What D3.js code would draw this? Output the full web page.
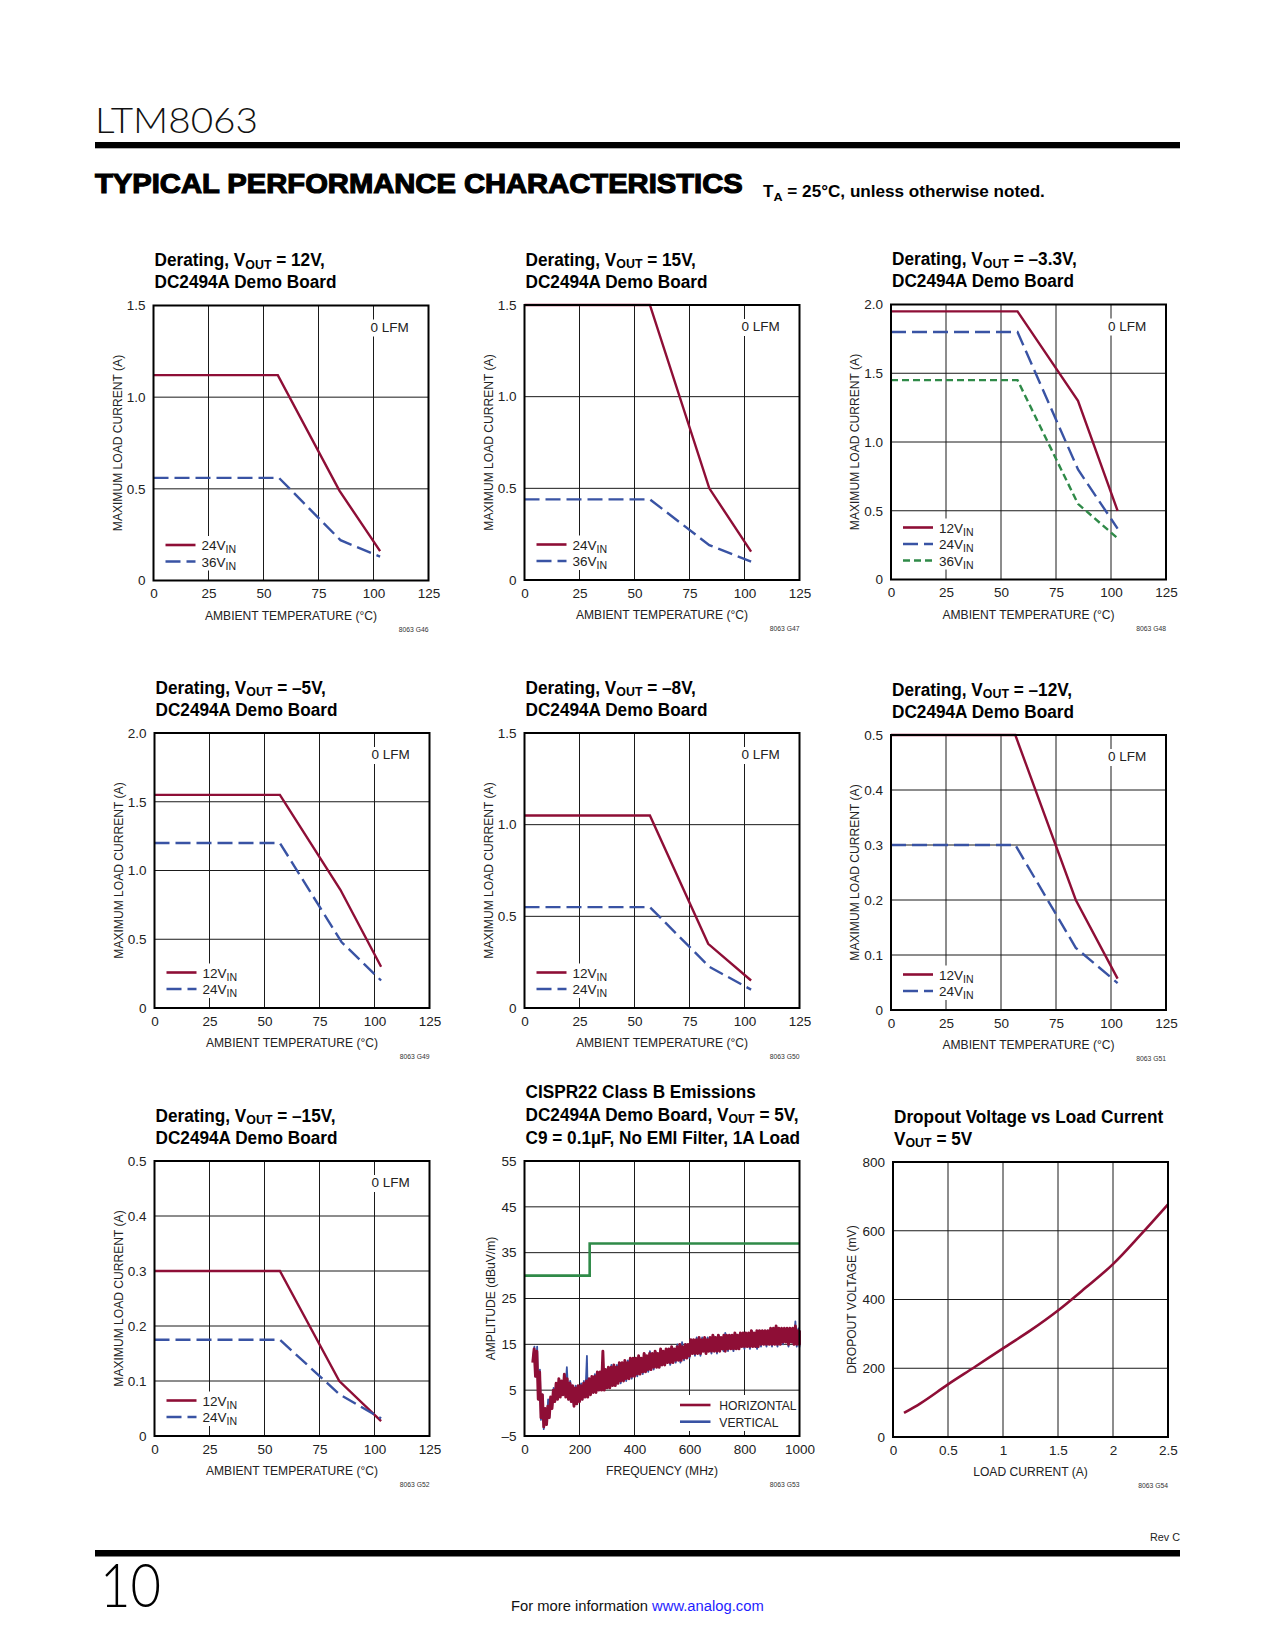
<!DOCTYPE html>
<html><head><meta charset="utf-8">
<script src="https://cdn.jsdelivr.net/npm/d3@7"></script>
<style>body{margin:0;background:#fff}svg{display:block}</style>
</head><body>
<svg id="page" width="1275" height="1650"></svg>
<script>
// ---------------- DATA ----------------
const tempTicks = [0, 25, 50, 75, 100, 125];
const tempLabels = ["0", "25", "50", "75", "100", "125"];
const yTicks15 = [0, 0.5, 1.0, 1.5];
const yLabels15 = ["0", "0.5", "1.0", "1.5"];
const yTicks20 = [0, 0.5, 1.0, 1.5, 2.0];
const yLabels20 = ["0", "0.5", "1.0", "1.5", "2.0"];
const yTicks05 = [0, 0.1, 0.2, 0.3, 0.4, 0.5];
const yLabels05 = ["0", "0.1", "0.2", "0.3", "0.4", "0.5"];

// Derating series: [ambient temperature °C, max load current A]
const g46_24VIN = [[0, 1.12], [56.5, 1.12], [84.5, 0.49], [103, 0.16]];
const g46_36VIN = [[0, 0.56], [57, 0.56], [85, 0.22], [103, 0.13]];
const g47_24VIN = [[0, 1.5], [57, 1.5], [84, 0.5], [103, 0.155]];
const g47_36VIN = [[0, 0.44], [57, 0.44], [84, 0.19], [103, 0.10]];
const g48_12VIN = [[0, 1.95], [57.5, 1.95], [85, 1.3], [103, 0.5]];
const g48_24VIN = [[0, 1.8], [57.5, 1.8], [85, 0.8], [103, 0.37]];
const g48_36VIN = [[0, 1.45], [57.5, 1.45], [85, 0.55], [103, 0.3]];
const g49_12VIN = [[0, 1.55], [57, 1.55], [84.5, 0.86], [103, 0.3]];
const g49_24VIN = [[0, 1.2], [57, 1.2], [85, 0.48], [103, 0.2]];
const g50_12VIN = [[0, 1.05], [57, 1.05], [83.5, 0.35], [103, 0.15]];
const g50_24VIN = [[0, 0.55], [57, 0.55], [84, 0.225], [103, 0.1]];
const g51_12VIN = [[0, 0.5], [56.5, 0.5], [84, 0.2], [103, 0.057]];
const g51_24VIN = [[0, 0.3], [56.5, 0.3], [84, 0.113], [103, 0.049]];
const g52_12VIN = [[0, 0.3], [57, 0.3], [84, 0.1], [103, 0.027]];
const g52_24VIN = [[0, 0.175], [57, 0.175], [84, 0.076], [103, 0.032]];

// EMI chart
const freqTicks = [0, 200, 400, 600, 800, 1000];
const freqLabels = ["0", "200", "400", "600", "800", "1000"];
const ampTicks = [-5, 5, 15, 25, 35, 45, 55];
const ampLabels = ["\u20135", "5", "15", "25", "35", "45", "55"];
const limitFreq = [0, 237, 237, 1000];
const limitAmp = [30, 30, 37, 37];
// [MHz, low dBuV/m, high dBuV/m] of the HORIZONTAL trace band
const emiHorizontal = [
 [30,11,14],[40,8,13.5],[50,3,9],[60,-1,4],[70,-3,1],[80,-2.5,1.5],[90,-1,3.5],[100,1,5],
 [110,2.5,6.5],[120,3,7.5],[130,3.5,7],[140,4,8.5],[150,3.5,7.5],[160,3,6.5],[170,2.5,6],[180,1.5,5.5],
 [190,2,6],[200,2.5,6],[210,3,6.5],[220,3.5,7],[230,3.5,7.5],[240,4,8],[250,4.5,8],[260,4.5,9],
 [270,5,9],[280,5,13.5],[290,5,9.5],[300,5.5,10],[310,5.5,10],[320,6,10.5],[330,6,10],[340,6.5,11],
 [350,7,11],[360,7,11.5],[370,7.5,11],[380,7.5,12],[390,8,12],[400,8,12],[410,8.5,12.5],[420,8.5,12],
 [430,9,13],[440,9,12.5],[450,9.5,13],[460,9.5,13],[470,10,13.5],[480,10,13],[490,10,14],[500,10.5,13.5],
 [510,10.5,14],[520,11,14],[530,11,14.5],[540,11,14],[550,11.5,14.5],[560,11.5,15],[570,11.5,14.5],[580,12,15],
 [590,12,15],[600,12.5,16],[610,13,16],[620,13,16],[630,13,16.5],[640,13,16],[650,13.5,16.5],[660,13,16],
 [670,13.5,16.5],[680,13.5,17],[690,13.5,16.5],[700,13.5,17],[710,13.5,16.5],[720,14,17],[730,13.5,17],[740,14,17],
 [750,14,17],[760,14,17.5],[770,14,17],[780,14,17.5],[790,14.5,17.5],[800,14.5,17.5],[810,14.5,17.5],[820,14.5,18],
 [830,14.5,17.5],[840,14.5,18],[850,14.5,18],[860,15,18],[870,15,18],[880,15,18],[890,15,18.5],[900,15,18.5],
 [910,15,19],[920,15,18.5],[930,15,18.5],[940,15.5,18.5],[950,15.5,18.5],[960,15,18.5],[970,15.5,18.5],[980,15,19],
 [990,15,18],[1000,15,18]
];
// [MHz, low, high] of the VERTICAL trace band
const emiVertical = [
 [30,11.5,14.5],[40,8,14.5],[50,3,9.5],[60,-1.5,4],[70,-3.5,1],[80,-2.5,3],[90,-1,3.5],[100,1,5.5],
 [120,3,7],[140,4,8],[148,4.5,10],[160,3,7],[180,1.5,6],[200,2.5,6.5],[210,3,7],[221,3.5,12.5],
 [230,3.5,7.5],[250,4.5,8.5],[270,5,9],[290,5,9.5],[310,5.5,10.5],[330,6,10.5],[350,6.5,11],[370,7,11.5],
 [390,7.5,12],[410,8,12.5],[430,8.5,13],[450,9,13.5],[470,9.5,13.5],[490,10,14],[510,10.5,14],[530,10.5,14.5],
 [550,11,15],[567,11,15.5],[580,11.5,15],[600,12,16],[620,12.5,16.5],[640,12.5,16.5],[660,13,16.5],[680,13,17],
 [700,13,17],[724,13.5,17.5],[740,13.5,17],[760,13.5,17.5],[780,14,17.5],[800,14,17.5],[820,14,18],[846,14,18],
 [860,14.5,18],[880,14.5,18],[900,14.5,18.5],[920,14.5,18.5],[940,15,18.5],[960,14.5,18.5],[979,15,20],[990,14.5,18.5],
 [1000,14.5,18]
];

// Dropout chart
const loadTicks = [0, 0.5, 1, 1.5, 2, 2.5];
const loadLabels = ["0", "0.5", "1", "1.5", "2", "2.5"];
const dropTicks = [0, 200, 400, 600, 800];
const dropLabels = ["0", "200", "400", "600", "800"];
const dropoutI = [0.1, 0.25, 0.5, 0.75, 1.0, 1.25, 1.5, 1.75, 2.0, 2.25, 2.5];
const dropoutV = [70, 98, 153, 205, 258, 310, 368, 434, 503, 588, 677];

// ---------------- STYLE ----------------
const RED = "#8e0e36", BLUE = "#3953a4", GREEN = "#2f8a48";
const FONT = "'Liberation Sans', Arial, Helvetica, sans-serif";
const W = 275, H = 275;
const svg = d3.select("#page");

function txt(parent, x, y, parts, o = {}) {
  const size = o.size || 13;
  const t = parent.append("text")
    .attr("font-family", o.family || FONT)
    .attr("font-size", size)
    .attr("font-weight", o.weight || "normal")
    .attr("fill", o.fill || "#111")
    .attr("text-anchor", o.anchor || "start");
  if (typeof parts === "string") parts = [parts];
  const subShift = o.subShift != null ? o.subShift : size * 0.27;
  const subScale = o.subScale || 0.74;
  let down = 0;
  parts.forEach(p => {
    const isSub = Array.isArray(p);
    const s = isSub ? p[0] : (typeof p === "object" ? p.s : p);
    const ts = t.append("tspan").text(s);
    if (typeof p === "object" && !isSub && p.fill) ts.attr("fill", p.fill);
    if (isSub) {
      ts.attr("font-size", size * subScale);
      if (!down) { down = subShift; ts.attr("dy", down); }
    } else if (down) { ts.attr("dy", -down); down = 0; }
  });
  if (o.stroke) t.attr("stroke", o.stroke).attr("stroke-width", o.strokeWidth || 0.5);
  let sx = o.sx || 1;
  if (o.width) sx = o.width / t.node().getComputedTextLength();
  const rot = o.rotate ? ` rotate(${o.rotate})` : "";
  t.attr("transform", `translate(${x},${y})${rot} scale(${sx},1)`);
  return t;
}

function plot(cfg) {
  const g = svg.append("g").attr("transform", `translate(${cfg.x},${cfg.y})`);
  const x = d3.scaleLinear().domain(cfg.xDomain).range([0, W]);
  const y = d3.scaleLinear().domain(cfg.yDomain).range([H, 0]);
  const grid = g.append("g").attr("stroke", "#1a1a1a").attr("stroke-width", 1);
  grid.selectAll(".gx").data(cfg.xTicks.slice(1, -1)).join("line")
    .attr("x1", d => x(d)).attr("x2", d => x(d)).attr("y1", 0).attr("y2", H);
  grid.selectAll(".gy").data(cfg.yTicks.slice(1, -1)).join("line")
    .attr("y1", d => y(d)).attr("y2", d => y(d)).attr("x1", 0).attr("x2", W);
  const xa = d3.axisBottom(x).tickValues(cfg.xTicks)
    .tickFormat((d, i) => cfg.xLabels[i]).tickSize(0).tickPadding(8.3);
  const ya = d3.axisLeft(y).tickValues(cfg.yTicks)
    .tickFormat((d, i) => cfg.yLabels[i]).tickSize(0).tickPadding(8);
  [[xa, `translate(0,${H})`], [ya, null]].forEach(([ax, tr]) => {
    const a = g.append("g").call(ax);
    if (tr) a.attr("transform", tr);
    a.attr("font-size", 13.5).attr("font-family", FONT);
    a.select(".domain").remove();
    a.selectAll("text").attr("fill", "#222");
  });
  // axis titles
  txt(g, W / 2, H + 39, cfg.xTitle, { anchor: "middle", sx: 0.93, fill: "#222" });
  txt(g, cfg.yTitleX || -32, H / 2, cfg.yTitle, { anchor: "middle", rotate: -90, sx: 0.93, fill: "#222" });
  // title
  const n = cfg.title.length;
  const lh = n === 3 ? 22.8 : 21.7;
  cfg.title.forEach((line, i) => {
    txt(g, 1, -17.5 - (n - 1 - i) * lh, line,
      { size: 18.5, weight: "bold", sx: 0.93, fill: "#000", subShift: 2.2, subScale: 0.72 });
  });
  // figure code
  txt(g, W, H + 51, cfg.code, { size: 8, anchor: "end", sx: 0.85, fill: "#333" });
  const data = g.append("g");
  const over = g.append("g");
  const frame = () => g.append("rect").attr("x", 0).attr("y", 0).attr("width", W).attr("height", H)
    .attr("fill", "none").attr("stroke", "#000").attr("stroke-width", 2);
  return { g, x, y, data, over, frame };
}

const seriesStyle = {
  red: { color: RED, dash: null },
  blue: { color: BLUE, dash: "15,6" },
  green: { color: GREEN, dash: "7,4" }
};

function derating(cfg) {
  const p = plot(Object.assign({
    xDomain: [0, 125], xTicks: tempTicks, xLabels: tempLabels,
    xTitle: "AMBIENT TEMPERATURE (°C)", yTitle: "MAXIMUM LOAD CURRENT (A)"
  }, cfg));
  // 0 LFM label
  const xg = p.x(100);
  p.over.append("rect").attr("x", xg - 4).attr("y", 14).attr("width", 42).attr("height", 17).attr("fill", "#fff");
  txt(p.over, xg - 3, 26, "0 LFM", { size: 13.5, fill: "#222" });
  const line = d3.line().x(d => p.x(d[0])).y(d => p.y(d[1]));
  cfg.series.forEach(s => {
    const st = seriesStyle[s.style];
    p.data.append("path").attr("d", line(s.values)).attr("fill", "none")
      .attr("stroke", st.color).attr("stroke-width", 2.4)
      .attr("stroke-dasharray", st.dash);
  });
  // legend
  const n = cfg.series.length;
  const top = H - 19 - (n - 1) * 16.5;
  p.over.append("rect").attr("x", 9).attr("y", top - 9).attr("width", 78)
    .attr("height", (n - 1) * 16.5 + 18).attr("fill", "#fff");
  cfg.series.forEach((s, i) => {
    const st = seriesStyle[s.style];
    const cy = top + i * 16.5;
    p.over.append("line").attr("x1", 12).attr("x2", 42).attr("y1", cy).attr("y2", cy)
      .attr("stroke", st.color).attr("stroke-width", 2.6).attr("stroke-dasharray", st.dash);
    txt(p.over, 48, cy + 5, [s.label, ["IN"]], { size: 13.5, fill: "#222", subShift: 3, subScale: 0.78 });
  });
  p.frame();
  return p;
}

// ---------------- HEADER / FOOTER ----------------
txt(svg, 95, 133.3, "LTM8063", { size: 35, family: "Lato, 'Liberation Sans', sans-serif", weight: 300, width: 163, fill: "#111" });
svg.append("rect").attr("x", 95).attr("y", 142).attr("width", 1085).attr("height", 6.3).attr("fill", "#000");
txt(svg, 95, 193.3, "TYPICAL PERFORMANCE CHARACTERISTICS", { size: 28.5, weight: "bold", width: 648, fill: "#000", stroke: "#000", strokeWidth: 1.2 });
txt(svg, 763, 197, ["T", ["A"], " = 25°C, unless otherwise noted."], { size: 16, weight: "bold", width: 282, fill: "#000" });

svg.append("rect").attr("x", 95).attr("y", 1550).attr("width", 1085).attr("height", 6.5).attr("fill", "#000");
txt(svg, 100, 1606.7, "10", { size: 62, family: "Lato, 'Liberation Sans', sans-serif", weight: 300, width: 61, fill: "#000" });
txt(svg, 511, 1611, ["For more information ", { s: "www.analog.com", fill: "#1d1dff" }], { size: 15.5, width: 253, fill: "#111" });
txt(svg, 1180, 1541, "Rev C", { size: 11.5, anchor: "end", width: 30, fill: "#222" });

// ---------------- CHARTS ----------------
derating({ x: 153.5, y: 305.5, yDomain: [0, 1.5], yTicks: yTicks15, yLabels: yLabels15, code: "8063 G46",
  title: [["Derating, V", ["OUT"], " = 12V,"], ["DC2494A Demo Board"]],
  series: [{ values: g46_24VIN, style: "red", label: "24V" }, { values: g46_36VIN, style: "blue", label: "36V" }] });
derating({ x: 524.5, y: 305, yDomain: [0, 1.5], yTicks: yTicks15, yLabels: yLabels15, code: "8063 G47",
  title: [["Derating, V", ["OUT"], " = 15V,"], ["DC2494A Demo Board"]],
  series: [{ values: g47_24VIN, style: "red", label: "24V" }, { values: g47_36VIN, style: "blue", label: "36V" }] });
derating({ x: 891, y: 304.5, yDomain: [0, 2], yTicks: yTicks20, yLabels: yLabels20, code: "8063 G48",
  title: [["Derating, V", ["OUT"], " = \u20133.3V,"], ["DC2494A Demo Board"]],
  series: [{ values: g48_12VIN, style: "red", label: "12V" }, { values: g48_24VIN, style: "blue", label: "24V" },
           { values: g48_36VIN, style: "green", label: "36V" }] });
derating({ x: 154.5, y: 733, yDomain: [0, 2], yTicks: yTicks20, yLabels: yLabels20, code: "8063 G49",
  title: [["Derating, V", ["OUT"], " = \u20135V,"], ["DC2494A Demo Board"]],
  series: [{ values: g49_12VIN, style: "red", label: "12V" }, { values: g49_24VIN, style: "blue", label: "24V" }] });
derating({ x: 524.5, y: 733, yDomain: [0, 1.5], yTicks: yTicks15, yLabels: yLabels15, code: "8063 G50",
  title: [["Derating, V", ["OUT"], " = \u20138V,"], ["DC2494A Demo Board"]],
  series: [{ values: g50_12VIN, style: "red", label: "12V" }, { values: g50_24VIN, style: "blue", label: "24V" }] });
derating({ x: 891, y: 735, yDomain: [0, 0.5], yTicks: yTicks05, yLabels: yLabels05, code: "8063 G51",
  title: [["Derating, V", ["OUT"], " = \u201312V,"], ["DC2494A Demo Board"]],
  series: [{ values: g51_12VIN, style: "red", label: "12V" }, { values: g51_24VIN, style: "blue", label: "24V" }] });
derating({ x: 154.5, y: 1161, yDomain: [0, 0.5], yTicks: yTicks05, yLabels: yLabels05, code: "8063 G52",
  title: [["Derating, V", ["OUT"], " = \u201315V,"], ["DC2494A Demo Board"]],
  series: [{ values: g52_12VIN, style: "red", label: "12V" }, { values: g52_24VIN, style: "blue", label: "24V" }] });

// EMI chart
(function () {
  const p = plot({ x: 524.5, y: 1161, xDomain: [0, 1000], yDomain: [-5, 55],
    xTicks: freqTicks, xLabels: freqLabels, yTicks: ampTicks, yLabels: ampLabels,
    xTitle: "FREQUENCY (MHz)", yTitle: "AMPLITUDE (dBuV/m)", yTitleX: -29.5, code: "8063 G53",
    title: [["CISPR22 Class B Emissions"], ["DC2494A Demo Board, V", ["OUT"], " = 5V,"], ["C9 = 0.1µF, No EMI Filter, 1A Load"]] });
  const lim = d3.line().x(d => p.x(d[0])).y(d => p.y(d[1]));
  p.data.append("path").attr("d", lim(limitFreq.map((f, i) => [f, limitAmp[i]])))
    .attr("fill", "none").attr("stroke", GREEN).attr("stroke-width", 2.6);
  // zigzag traces between low/high of each sample
  const zig = (band, step) => {
    const pts = [];
    band.forEach(([f, lo, hi]) => { pts.push([f, lo]); pts.push([Math.min(f + step, 1000), hi]); });
    return lim(pts);
  };
  p.data.append("path").attr("d", zig(emiVertical, 6)).attr("fill", "none")
    .attr("stroke", BLUE).attr("stroke-width", 1.8).attr("stroke-linejoin", "round");
  p.data.append("path").attr("d", zig(emiHorizontal, 5)).attr("fill", "none")
    .attr("stroke", RED).attr("stroke-width", 2.9).attr("stroke-linejoin", "round");
  // legend
  p.over.append("rect").attr("x", 150).attr("y", 234).attr("width", 124).attr("height", 36).attr("fill", "#fff");
  [["HORIZONTAL", RED, 244], ["VERTICAL", BLUE, 260.7]].forEach(([lab, c, cy]) => {
    p.over.append("line").attr("x1", 155.5).attr("x2", 186).attr("y1", cy).attr("y2", cy)
      .attr("stroke", c).attr("stroke-width", 2.6);
    txt(p.over, 194.8, cy + 5, lab, { size: 13.5, sx: 0.9, fill: "#222" });
  });
  p.frame();
})();

// Dropout chart
(function () {
  const p = plot({ x: 893, y: 1162, xDomain: [0, 2.5], yDomain: [0, 800],
    xTicks: loadTicks, xLabels: loadLabels, yTicks: dropTicks, yLabels: dropLabels,
    xTitle: "LOAD CURRENT (A)", yTitle: "DROPOUT VOLTAGE (mV)", yTitleX: -37.5, code: "8063 G54",
    title: [["Dropout Voltage vs Load Current"], ["V", ["OUT"], " = 5V"]] });
  const line = d3.line().curve(d3.curveMonotoneX).x(d => p.x(d[0])).y(d => p.y(d[1]));
  p.data.append("path").attr("d", line(dropoutI.map((v, i) => [v, dropoutV[i]])))
    .attr("fill", "none").attr("stroke", RED).attr("stroke-width", 2.6);
  p.frame();
})();
</script>
</body></html>
